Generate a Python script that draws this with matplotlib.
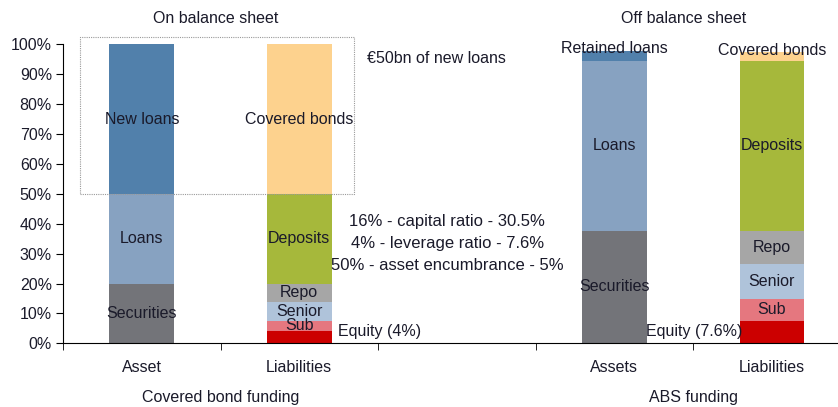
import matplotlib
matplotlib.use("Agg")
import numpy as np
from matplotlib import pyplot as plt
from matplotlib.patches import Rectangle

plt.rcParams['font.family'] = ['Liberation Sans', 'DejaVu Sans']

categories = ["Asset", "Liabilities", "", "Assets", "Liabilities"]
groups = ["Covered bond funding", "ABS funding"]
titles = ["On balance sheet", "Off balance sheet"]

# stacks, bottom to top: (label, value, colour)
cb_asset = [("Securities", 20, "#737479"), ("Loans", 30, "#87a2c1"), ("New loans", 50, "#5180ab")]
cb_liab = [("", 4, "#cc0000"), ("Sub", 3.6, "#e5777f"), ("Senior", 6.2, "#afc3da"),
           ("Repo", 6.2, "#a6a6a6"), ("Deposits", 30, "#a6b83b"), ("Covered bonds", 50, "#fdd28e")]
abs_asset = [("Securities", 37.7, "#737479"), ("Loans", 56.9, "#87a2c1"), ("Retained loans", 3.2, "#5180ab")]
abs_liab = [("", 7.6, "#cc0000"), ("Sub", 7.1, "#e5777f"), ("Senior", 11.7, "#afc3da"),
            ("Repo", 11.3, "#a6a6a6"), ("Deposits", 56.8, "#a6b83b"), ("Covered bonds", 2.8, "#fdd28e")]
stacks = {0: cb_asset, 1: cb_liab, 3: abs_asset, 4: abs_liab}
top_labels = {"Retained loans", "Covered bonds"}

ratio_lines = ["16% - capital ratio - 30.5%", "4% - leverage ratio - 7.6%", "50% - asset encumbrance - 5%"]

fig = plt.figure(figsize=(8.38, 4.07), dpi=100)
ax = fig.add_axes([0.0752, 0.1565, 0.9248, 0.7345])
width = 0.41
fs = 11.5
txt_col = "#1a1a2a"

for x, stack in stacks.items():
    bottom = 0
    for label, val, col in stack:
        ax.bar(x, val, width, bottom=bottom, color=col, linewidth=0)
        if label:
            if x >= 3 and label in top_labels:
                # thin top slices get their label sitting on the bar top
                ax.text(x, bottom + val + 0.8, label, ha="center", va="center", fontsize=fs, color=txt_col)
            else:
                ax.text(x, bottom + val / 2, label, ha="center", va="center", fontsize=fs, color=txt_col)
        bottom += val

ax.set_xlim(-0.5, 4.42)
ax.set_ylim(0, 100)
ax.set_yticks(np.arange(0, 101, 10))
ax.set_yticklabels([f"{v}%" for v in range(0, 101, 10)], fontsize=fs, color=txt_col)
ax.set_xticks(range(len(categories)))
ax.set_xticklabels(categories, fontsize=fs, color=txt_col)
ax.set_xticks([-0.5, 0.5, 1.5, 2.5, 3.5], minor=True)
ax.tick_params(axis="x", which="major", length=0, pad=12)
ax.tick_params(axis="x", which="minor", length=5, direction="out")
ax.tick_params(axis="y", length=5, direction="out", pad=3)
for s in ("top", "right"):
    ax.spines[s].set_visible(False)

# group and section labels
for gx, g in zip([0.5, 3.5], groups):
    ax.text(gx, -18, g, ha="center", va="center", fontsize=fs, color=txt_col)
ax.text(0.47, 108.5, titles[0], ha="center", va="center", fontsize=fs, color=txt_col)
ax.text(3.44, 108.5, titles[1], ha="center", va="center", fontsize=fs, color=txt_col)

# dotted box round the new-loan part
ax.add_patch(Rectangle((-0.39, 50), 1.74, 52.5, fill=False, ec="#9a9a9a", ls=(0, (1, 1)), lw=0.8,
                       clip_on=False))

ax.text(1.43, 95.4, "€50bn of new loans", ha="left", va="center", fontsize=fs, color=txt_col)
for i, line in enumerate(ratio_lines):
    ax.text(1.94, 40.6 - 7.35 * i, line, ha="center", va="center", fontsize=12, color=txt_col)
ax.text(1.245, 4.1, "Equity (4%)", ha="left", va="center", fontsize=fs, color=txt_col)
ax.text(3.81, 4.1, "Equity (7.6%)", ha="right", va="center", fontsize=fs, color=txt_col)

fig.savefig("out.png", dpi=100)
